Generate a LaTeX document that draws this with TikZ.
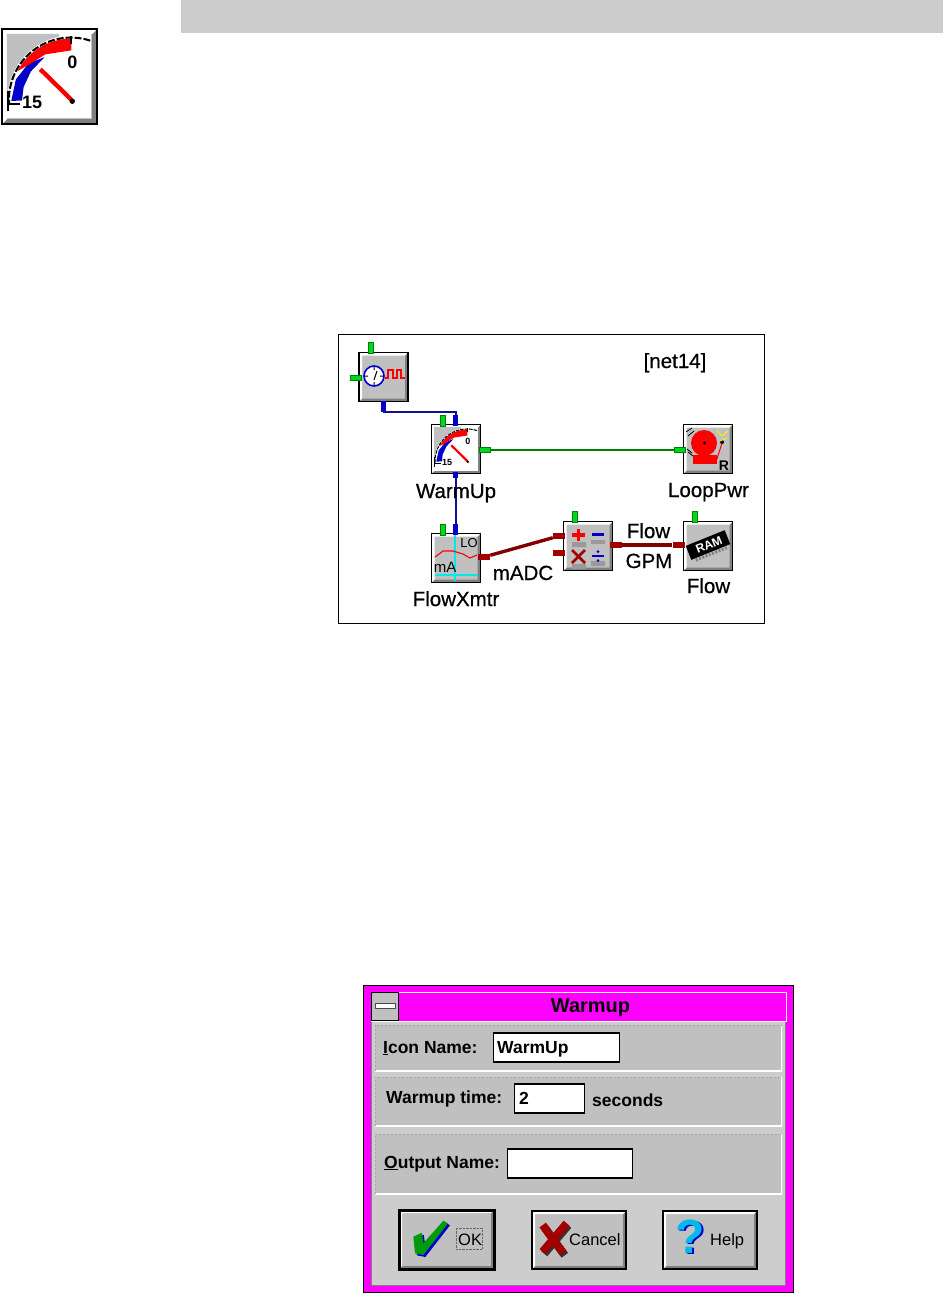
\documentclass[tikz,border=0pt]{standalone}
\usepackage{fontspec}
\setmainfont{Liberation Sans}
\newfontfamily\heavyfont[FakeBold=0.6]{Liberation Sans}
\usetikzlibrary{positioning, calc}
\definecolor{hmiGrey}{HTML}{C0C0C0}
\definecolor{hmiShade}{HTML}{808080}
\definecolor{hmiBar}{HTML}{CCCCCC}
\definecolor{hmiDots}{HTML}{CDCDCD}
\definecolor{hmiGreen}{HTML}{00D820}
\definecolor{hmiBlue}{HTML}{0000C8}
\definecolor{hmiNavy}{HTML}{101090}
\definecolor{hmiRed}{HTML}{A00000}
\definecolor{hmiMaroon}{HTML}{800000}
\definecolor{hmiWire}{HTML}{008000}
\definecolor{hmiMagenta}{HTML}{FF00FF}
\definecolor{hmiCyan}{HTML}{00E8E8}
\newcommand{\pxfont}[1]{\fontsize{#1}{#1}\selectfont}
\tikzset{
  iconbox/.style={rectangle, draw=black, line width=1.6pt, fill=hmiGrey, minimum size=49pt, inner sep=0pt,
    path picture={
      \fill[hmiShade] (path picture bounding box.south west) -- (path picture bounding box.south east)
        -- (path picture bounding box.north east) -- ([xshift=-#1pt, yshift=-#1pt]path picture bounding box.north east)
        -- ([xshift=-#1pt, yshift=#1pt]path picture bounding box.south east) -- ([xshift=#1pt, yshift=#1pt]path picture bounding box.south west) -- cycle;
      \fill[white] (path picture bounding box.south west) -- (path picture bounding box.north west)
        -- (path picture bounding box.north east) -- ([xshift=-#1pt, yshift=-#1pt]path picture bounding box.north east)
        -- ([xshift=#1pt, yshift=-#1pt]path picture bounding box.north west) -- ([xshift=#1pt, yshift=#1pt]path picture bounding box.south west) -- cycle;
    }},
  iconbox/.default=3,
  panelbox/.style={rectangle, fill=hmiGrey, minimum width=407pt, inner sep=0pt,
    path picture={
      \draw[white, line width=3pt] (path picture bounding box.south west) -- (path picture bounding box.south east) -- (path picture bounding box.north east);
      \draw[hmiShade!70, line width=2pt, dotted] (path picture bounding box.south west) -- (path picture bounding box.north west) -- (path picture bounding box.north east);
    }},
  fieldbox/.style={rectangle, draw=black, line width=1.2pt, fill=white, inner sep=0pt, minimum height=29pt},
  pushbox/.style={iconbox=3, minimum width=94pt, minimum height=58pt},
  pinGreen/.style={rectangle, draw=hmiWire, line width=.5pt, fill=hmiGreen, inner sep=0pt},
  pinBlue/.style={rectangle, fill=hmiBlue, inner sep=0pt},
  pinRed/.style={rectangle, fill=hmiRed, inner sep=0pt},
  pinUp/.style={minimum width=5pt, minimum height=11pt},
  pinSide/.style={minimum width=11pt, minimum height=5pt},
  pinFat/.style={minimum width=12pt, minimum height=6pt},
  wireGreen/.style={draw=hmiWire, line width=2pt},
  wireBlue/.style={draw=hmiNavy, line width=2pt},
  wireRed/.style={draw=hmiMaroon, line width=3.4pt},
  iconlabel/.style={font=\pxfont{20.5}\heavyfont, text=black, inner sep=0pt, anchor=base},
  dlglabel/.style={font=\pxfont{17.5}\bfseries, text=black, inner sep=0pt, anchor=base west},
  btnlabel/.style={font=\pxfont{16.5}, text=black, inner sep=0pt, anchor=base west},
  pics/gauge/.style 2 args={code={
    \fill[white] (.06,.06) rectangle (.93,.93);
    \fill[hmiGrey] (.06,.06) -- (.6,.06) -- (.6,.09) arc[start angle=-101, end angle=-180, radius=.66] -- (.06,.74) -- cycle;
    \begin{scope}[shift={(.726,.74)}]
      \fill[hmiBlue] (-122:.52) -- (-140:.58) -- (-160:.61) -- (-181:.62) -- (-181:.51) -- (-165:.51) -- (-145:.51) -- cycle;
      \fill[red] (-90:.63) arc[start angle=-90, end angle=-152, radius=.63] -- (-138:.56) -- (-120:.54) -- (-90:.51) -- cycle;
    \end{scope}
    \draw[black, line width=#1pt, dash pattern=on 3.5*#1pt off #1pt] (.92,.13) arc[start angle=-72, end angle=-185, radius=.64];
    \draw[black, line width=#1pt] (.075,.65) -- (.075,.86) (.075,.78) -- (.2,.78) (.726,.08) -- (.726,.16);
    \draw[red, line width=2.2*#1pt] (.405,.425) -- (.726,.74);
    \fill[black] (.735,.755) circle (.028);
    \node[font=\pxfont{#2}\bfseries, inner sep=0pt] (zero) at (.735,.35) {0};
    \node[font=\pxfont{#2}\bfseries, inner sep=0pt] (fifteen) at (.32,.77) {15};
  }}
}
\begin{document}
\begin{tikzpicture}[x=1pt, y=-1pt]
\useasboundingbox (0,0) rectangle (943,1293);
\node[rectangle, fill=hmiBar, inner sep=0pt, minimum width=762pt, minimum height=33pt, anchor=north west] (headbar) at (181,0) {};

\node[iconbox=5, line width=2pt, minimum size=95pt, anchor=north west] (bigicon) at (1,28) {};
\pic[scale=97] at (1,28) {gauge={2}{18}};

\node[rectangle, draw=black, line width=1pt, fill=white, minimum width=426pt, minimum height=289pt, anchor=north west, inner sep=0pt] (netframe) at (338,334) {};
\node[iconlabel, font=\pxfont{20.5}\heavyfont] (netname) at (675,368) {[net14]};

\node[iconbox] (timer) at (383.5,377) {};
\node[iconbox] (warmup) at (456,449) {};
\node[iconbox] (xmtr) at (456,558) {};
\node[iconbox] (calc) at (588,546) {};
\node[iconbox] (ram) at (708,546) {};
\node[iconbox] (alarm) at (708,449) {};

\coordinate (jog) at (420,412);
\node[pinBlue, pinUp] (timerOut) at (383.5,406.5) {};
\node[pinBlue, pinUp] (warmIn) at (455.5,420.5) {};
\node[pinGreen, pinSide] (warmOut) at (484.5,449.5) {};
\node[pinBlue, minimum width=5pt, minimum height=6pt] (warmDown) at (455.5,475) {};
\node[pinBlue, pinUp] (xmtrIn) at (455.5,529.5) {};
\node[pinRed, pinFat] (xmtrOut) at (484,557) {};
\node[pinRed, pinFat] (calcIn) at (559,536) {};
\node[pinRed, pinFat] (calcOut) at (615.5,545) {};
\node[pinRed, pinFat] (ramIn) at (678.5,545) {};
\node[pinGreen, pinSide] (alarmIn) at (679.5,449.5) {};

\draw[wireBlue] (timerOut.south) -- (timerOut.south |- jog) -| (warmIn.north);
\draw[wireBlue] (warmDown) -- (xmtrIn);
\draw[wireGreen] (warmOut) -- (alarmIn);
\draw[wireRed] (xmtrOut) -- (calcIn);
\draw[wireRed] (calcOut) -- (ramIn);

\node[pinGreen, pinUp] (timerA) at (370.5,348) {};
\node[pinGreen, pinSide] (timerB) at (355.5,377.5) {};
\node[pinGreen, pinUp] (warmA) at (442.5,420.5) {};
\node[pinGreen, pinUp] (xmtrA) at (442.5,529.5) {};
\node[pinGreen, pinUp] (calcA) at (574.5,517) {};
\node[pinRed, pinFat] (calcInB) at (559,553) {};
\node[pinGreen, pinUp] (ramA) at (694.5,517) {};

\node[iconlabel] (warmupName) at (456,498) {WarmUp};
\node[iconlabel] (xmtrName) at (456,606) {FlowXmtr};
\node[iconlabel] (madcName) at (523,580) {mADC};
\node[iconlabel] (flowTop) at (648.5,538) {Flow};
\node[iconlabel] (gpmName) at (649,568) {GPM};
\node[iconlabel] (ramName) at (708.5,593) {Flow};
\node[iconlabel] (alarmName) at (708.5,497) {LoopPwr};

% timer
\draw[hmiBlue, line width=1.6pt, fill=white] (374,376) circle (10);
\draw[black, line width=1pt] (374,367) -- (374,370) (374,382) -- (374,385) (365,376) -- (368,376) (380,376) -- (383,376) (374,380) -- (377,371);
\draw[red, line width=1.2pt] (385,378) -- (388,378) -- (388,370) -- (393,370) -- (393,378) -- (397,378) -- (397,370) -- (401,370) -- (401,378) -- (405,378);
% gauge
\pic[scale=50] at (431,424) {gauge={1}{9}};
% chart
\draw[hmiCyan, line width=1.4pt] (455,535) -- (455,581) (435,575) -- (478,575);
\draw[red, line width=1.1pt] (435,557) -- (443,551) -- (453,551) -- (463,554) -- (470,558) -- (477,555);
\node[font=\pxfont{13}, inner sep=0pt] (chartHi) at (469,543) {LO};
\node[font=\pxfont{15}, inner sep=0pt] (chartUnit) at (445,567) {mA};
% arithmetic
\fill[hmiShade!80] (572,542) rectangle (586,547) (591,540) rectangle (605,544) (591,561) rectangle (605,566) (572,564) rectangle (586,569);
\draw[red, line width=3.5pt] (572,535) -- (585,535) (578.5,529) -- (578.5,541);
\draw[hmiBlue, line width=3pt] (592,534) -- (604,534);
\draw[hmiRed, line width=2.6pt] (572,550) -- (585,563) (585,550) -- (572,563);
\draw[hmiBlue, line width=2.5pt] (592,556) -- (604,556);
\fill[hmiBlue] (598,551.5) circle (1.5) (598,560.5) circle (1.5);
% chip
\begin{scope}[shift={(708,545)}, rotate=22]
\draw[hmiShade, line width=3pt, dash pattern=on 2pt off 1.5pt] (-17,9.5) -- (17,9.5);
\fill[black] (-21,-7.5) rectangle (21,7.5);
\node[font=\pxfont{12}\bfseries, text=white, inner sep=0pt, transform shape] (chipName) at (1,0) {RAM};
\end{scope}
% bell
\fill[red] (704,443) circle (13);
\fill[black] (704.5,443) circle (1.6);
\fill[red] (693,455) rectangle (717,464);
\draw[red, line width=1pt] (717,459) -- (722,443);
\fill[black] (722,442) circle (2);
\draw[yellow, line width=1pt] (717,431) -- (722,436) (720,441) -- (727,438) (722,436) -- (728,431);
\draw[black, line width=.8pt] (686,432) -- (692,428) (688,436) -- (694,431) (688,452) -- (693,456) (687,449) -- (692,453);
\node[font=\pxfont{14}\bfseries, inner sep=0pt] (bellMark) at (724,466) {R};

\node[rectangle, draw=black, line width=1.4pt, fill=hmiMagenta, minimum width=430pt, minimum height=307pt, anchor=north west, inner sep=0pt] (dialog) at (363,985) {};
\node[rectangle, draw=hmiShade, line width=.8pt, fill=hmiDots, minimum width=414pt, minimum height=264pt, anchor=north west, inner sep=0pt] (dialogBody) at (371,1021) {};
\node[rectangle, draw=white, line width=.8pt, fill=hmiMagenta, minimum width=415pt, minimum height=29pt, anchor=north west, inner sep=0pt] (titlebar) at (370.5,991.5) {};
\node[rectangle, draw=black, line width=.8pt, fill=hmiGrey, minimum width=27pt, minimum height=28pt, anchor=north west, inner sep=0pt] (sysmenu) at (371,992) {};
\node[rectangle, draw=black!70, line width=1pt, fill=white, minimum width=20pt, minimum height=5pt, inner sep=0pt] (sysbar) at (385,1006) {};
\node[font=\pxfont{20}\bfseries, inner sep=0pt, anchor=base] (titleName) at (590.5,1012) {Warmup};

\node[panelbox, minimum height=46pt, anchor=north west] (panelIcon) at (375,1025) {};
\node[panelbox, minimum height=49pt, anchor=north west] (panelTime) at (375,1077) {};
\node[panelbox, minimum height=60pt, anchor=north west] (panelOut) at (375,1134) {};

\node[dlglabel] (iconLbl) at (383,1053) {\underline{I}con Name:};
\node[fieldbox, minimum width=126pt, anchor=west] (iconField) at (493,1047.5) {};
\node[dlglabel] (iconVal) at (497,1053) {WarmUp};
\node[dlglabel] (timeLbl) at (386,1103) {Warmup time:};
\node[fieldbox, minimum width=70pt, anchor=west] (timeField) at (514,1098.5) {};
\node[dlglabel] (timeVal) at (519,1104) {2};
\node[dlglabel] (timeUnit) at (592,1106) {seconds};
\node[dlglabel] (outLbl) at (384,1168) {\underline{O}utput Name:};
\node[fieldbox, minimum width=125pt, anchor=west] (outField) at (507,1163.5) {};

\node[pushbox, line width=3pt, minimum width=95pt, minimum height=59pt] (btnOk) at (446.5,1239.5) {};
\node[pushbox] (btnCancel) at (579,1240) {};
\node[pushbox] (btnHelp) at (710,1240) {};

\fill[hmiBlue, shift={(2,2)}] (413.3,1236.7) -- (421.7,1232.7) -- (423.3,1243.3) -- (443.3,1220.7) -- (448,1223.3) -- (423.3,1255) -- (415,1253.3) -- cycle;
\fill[hmiWire!70!hmiGreen] (413.3,1236.7) -- (421.7,1232.7) -- (423.3,1243.3) -- (443.3,1220.7) -- (448,1223.3) -- (423.3,1255) -- (415,1253.3) -- cycle;
\node[rectangle, draw=black!60, densely dotted, inner sep=0pt, minimum width=26pt, minimum height=21pt] (okFocus) at (469,1238.5) {};
\node[btnlabel] (okName) at (458,1245) {OK};
\draw[black!80, line width=8pt, shift={(1.5,2)}] (542.7,1225) -- (563.3,1253.3) (566.7,1223.3) -- (542.7,1251.7);
\draw[hmiRed!100!black, line width=8pt] (542.7,1225) -- (563.3,1253.3) (566.7,1223.3) -- (542.7,1251.7);
\node[btnlabel] (cancelName) at (569,1245) {Cancel};
\node[font=\pxfont{48}\bfseries, text=hmiBlue, inner sep=0pt] (helpShade) at (692,1238) {?};
\node[font=\pxfont{48}\bfseries, text=hmiCyan!80!blue, inner sep=0pt] (helpMark) at (690.5,1237) {?};
\node[btnlabel] (helpName) at (710,1245) {Help};
\end{tikzpicture}
\end{document}
